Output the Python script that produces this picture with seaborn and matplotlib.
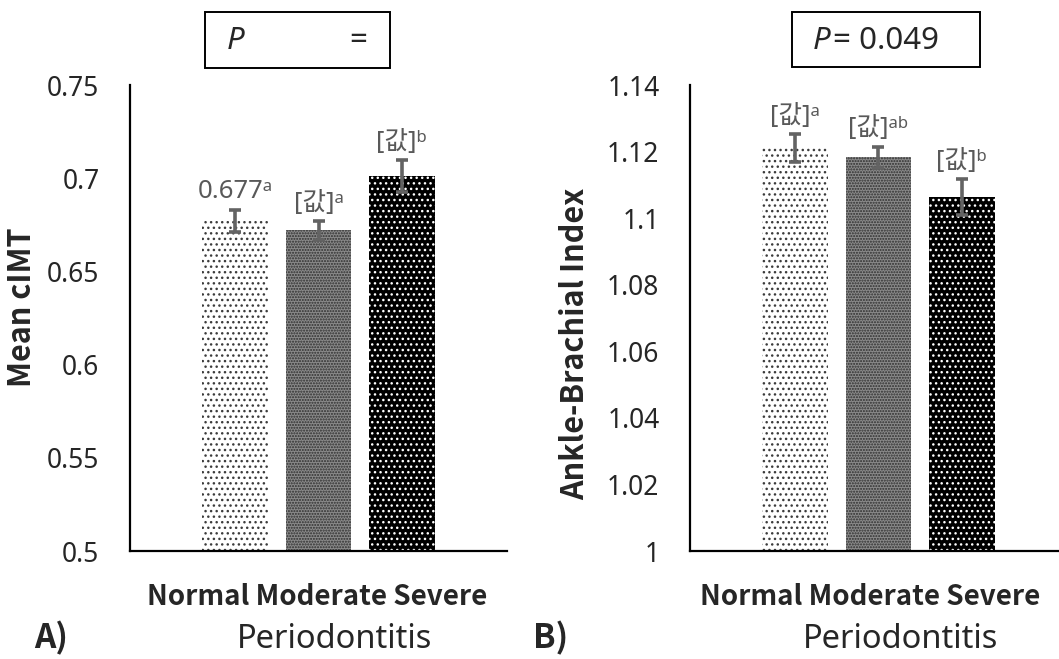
import numpy as np
import pandas as pd
import matplotlib
matplotlib.use("Agg")
import matplotlib.pyplot as plt
from matplotlib.patches import Rectangle
import seaborn as sns

# data
groups = ["Normal", "Moderate", "Severe"]
cimt_mean = [0.677, 0.672, 0.701]
cimt_err = [0.006, 0.005, 0.0085]
cimt_labels = ["0.677ᵃ", "[값]ᵃ", "[값]ᵇ"]
abi_mean = [1.121, 1.1183, 1.1063]
abi_err = [0.0042, 0.0032, 0.0054]
abi_labels = ["[값]ᵃ", "[값]ᵃᵇ", "[값]ᵇ"]
cimt_ticks = [0.5, 0.55, 0.6, 0.65, 0.7, 0.75]
abi_ticks = [1, 1.02, 1.04, 1.06, 1.08, 1.1, 1.12, 1.14]

sns.set_style("white")
plt.rcParams["font.family"] = ["Noto Sans", "Noto Sans CJK KR", "DejaVu Sans"]
plt.rcParams["hatch.linewidth"] = 1.0
BOLD = ["Noto Sans CJK KR", "DejaVu Sans"]  # has a real bold face

# bar styles: face, hatch colour, hatch pattern
styles = [("white", "#3c3c3c", "..."),
          ("#8a8a8a", "#2e2e2e", "......"),
          ("black", "white", "...")]

W, H = 1059, 659
fig = plt.figure(figsize=(W / 100, H / 100), dpi=100)


def panel(left, means, errs, labels, ticks, ylabel, lab_x, lab_y):
    ax = fig.add_axes([left / W, 108 / H, 377 / W, 466 / H])
    df = pd.DataFrame({"group": groups, "value": means})
    sns.barplot(data=df, x="group", y="value", order=groups, width=0.79,
                errorbar=None, ax=ax)
    for p, (fc, hc, ht) in zip(ax.patches, styles):
        p.set_facecolor(fc)
        p.set_edgecolor(hc)
        p.set_hatch(ht)
        p.set_linewidth(0)
    x = np.arange(len(groups))
    ax.errorbar(x, means, yerr=errs, fmt="none", ecolor="#636363",
                elinewidth=2.6, capsize=4.5, capthick=2.6, zorder=5)
    for xi, m, e, lab in zip(x, means, errs, labels):
        ax.annotate(lab, (xi, m + e), xytext=(0, 4), textcoords="offset points",
                    ha="center", va="bottom", fontsize=18.5, color="#595959")
    ax.set_ylim(ticks[0], ticks[-1])
    ax.set_yticks(ticks)
    ax.set_yticklabels([f"{t:g}" for t in ticks])
    lo, hi = -1.2625, 3.2625
    ax.set_xlim(lo, hi)
    ax.set_xticks([lo, hi])
    ax.set_xticklabels(["", ""])
    ax.set_xlabel("")
    ax.set_ylabel(ylabel, fontsize=22, fontweight="bold", family=BOLD)
    ax.yaxis.set_label_coords((lab_x - left) / 377, (551 - lab_y) / 466)
    sns.despine(ax=ax)
    for s in ("left", "bottom"):
        ax.spines[s].set_linewidth(1.6)
        ax.spines[s].set_color("black")
    ax.tick_params(axis="y", length=7, width=1.1, color="#7f7f7f",
                   labelsize=19, pad=15, direction="out")
    ax.tick_params(axis="x", length=7, width=1.1, color="#7f7f7f",
                   direction="out")
    return ax


ax1 = panel(130, cimt_mean, cimt_err, cimt_labels, cimt_ticks, "Mean cIMT", 38, 307)
ax2 = panel(690, abi_mean, abi_err, abi_labels, abi_ticks,
            "Ankle-Brachial Index", 591, 344)

cat_text = " ".join(groups)
fig.text(317.5 / W, 1 - 597 / H, cat_text, ha="center", va="center",
         fontsize=20, fontweight="bold", family=BOLD)
fig.text(870 / W, 1 - 597 / H, cat_text, ha="center", va="center",
         fontsize=20, fontweight="bold", family=BOLD)
fig.text(335 / W, 1 - 640 / H, "Periodontitis", ha="center", va="center",
         fontsize=23.5)
fig.text(901 / W, 1 - 640 / H, "Periodontitis", ha="center", va="center",
         fontsize=23.5)
fig.text(34 / W, 1 - 638 / H, "A)", ha="left", va="center",
         fontsize=24, fontweight="bold", family=BOLD)
fig.text(533 / W, 1 - 638 / H, "B)", ha="left", va="center",
         fontsize=24, fontweight="bold", family=BOLD)

# P-value boxes
fig.patches.append(Rectangle((205 / W, 1 - 68 / H), 185 / W, 56 / H,
                             transform=fig.transFigure, fill=False,
                             edgecolor="black", linewidth=1.4))
fig.patches.append(Rectangle((792 / W, 1 - 67 / H), 188 / W, 55 / H,
                             transform=fig.transFigure, fill=False,
                             edgecolor="black", linewidth=1.4))
fig.text(227 / W, 1 - 41 / H, "P", style="italic",
         ha="left", va="center", fontsize=22.5)
fig.text(349 / W, 1 - 41 / H, "=", ha="left", va="center", fontsize=22.5)
fig.text(813 / W, 1 - 41 / H, "P", style="italic",
         ha="left", va="center", fontsize=22.5)
fig.text(833 / W, 1 - 41 / H, "= 0.049", ha="left", va="center", fontsize=22.5)

fig.savefig("out.png", dpi=100)
